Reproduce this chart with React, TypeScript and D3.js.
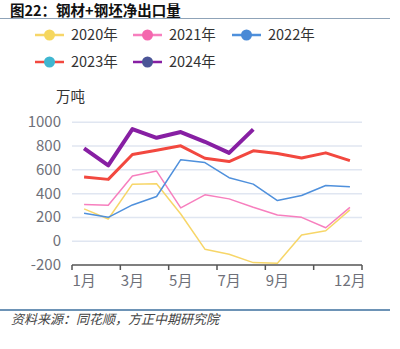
import React from "react";
import * as d3 from "d3";

const months = ["1月","2月","3月","4月","5月","6月","7月","8月","9月","10月","11月","12月"];
const shownLabels = ["1月","3月","5月","7月","9月","12月"];
const yTicks = [-200, 0, 200, 400, 600, 800, 1000];
const seriesNames = ["2020年","2021年","2022年","2023年","2024年"];
const v2020 = [272, 187, 480, 483, 229, -67, -109, -180, -185, 52, 88, 263];
const v2021 = [308, 302, 548, 590, 280, 390, 356, 285, 221, 201, 113, 285];
const v2022 = [235, 201, 305, 376, 686, 661, 534, 480, 342, 384, 469, 458];
const v2023 = [540, 520, 729, 765, 802, 698, 670, 760, 737, 700, 743, 678];
const v2024 = [780, 638, 943, 870, 918, 836, 743, 940];

const lineColors = ["#f7d668", "#f77fbe", "#4f90dc", "#f2483f", "#871fa3"];
const dotColors = ["#f5d75e", "#f467ae", "#4a8ad6", "#3fb6d0", "#4b5597"];
const widths = [1.5, 1.5, 1.5, 3, 4];
const allValues = [v2020, v2021, v2022, v2023, v2024];

export default function App() {
  const W = 400, H = 349;
  const x0 = 72, x1 = 362;
  const y = d3.scaleLinear().domain([-200, 1000]).range([265, 122.3]);
  const band = d3.scaleBand().domain(months).range([x0, x1]);
  const cx = (i: number) => (band(months[i]) as number) + band.bandwidth() / 2;
  const line = d3.line<number>().x((_, i) => cx(i)).y((d) => y(d));
  const font = "'Noto Sans CJK SC', 'Noto Sans', sans-serif";
  const tickXs = d3.range(0, 13, 2).map((k) => x0 + k * band.step());
  const legendPos = [
    [35, 35], [133, 35], [232, 35], [35, 62], [133, 62],
  ];
  return (
    <svg width={W} height={H} style={{ position: "absolute", left: 0, top: 0, background: "#fff" }} fontFamily={font}>
      <text x={10} y={15.5} fontSize={14.5} fontWeight="bold" fill="#111">图22：钢材+钢坯净出口量</text>
      <line x1={0} x2={390} y1={18.5} y2={18.5} stroke="#8fa3b8" strokeWidth={1} />
      {seriesNames.map((n, i) => {
        const [lx, ly] = legendPos[i];
        return (
          <g key={n}>
            <line x1={lx} x2={lx + 29} y1={ly} y2={ly} stroke={lineColors[i]} strokeWidth={2.5} />
            <circle cx={lx + 14.5} cy={ly} r={5.5} fill={dotColors[i]} />
            <text x={lx + 36} y={ly + 5} fontSize={14.5} fill="#333">{n}</text>
          </g>
        );
      })}
      <text x={56} y={102} fontSize={14.5} fill="#333">万吨</text>
      {yTicks.map((t) => (
        <g key={t}>
          {t > -200 && <line x1={x0} x2={x1} y1={y(t)} y2={y(t)} stroke="#e0e6f1" strokeWidth={1.5} />}
          <text x={61} y={y(t) + 5} fontSize={15} fill="#6e7079" textAnchor="end">{t}</text>
        </g>
      ))}
      <line x1={x0} x2={x1} y1={y(-200)} y2={y(-200)} stroke="#555" strokeWidth={1.5} />
      {tickXs.map((tx, k) => (
        <line key={k} x1={tx} x2={tx} y1={y(-200)} y2={y(-200) + 5} stroke="#555" strokeWidth={1.5} />
      ))}
      {shownLabels.map((m) => (
        <text key={m} x={cx(months.indexOf(m))} y={286} fontSize={15} fill="#6e7079" textAnchor="middle">{m}</text>
      ))}
      {allValues.map((vals, i) => (
        <path key={i} d={line(vals) as string} fill="none" stroke={lineColors[i]} strokeWidth={widths[i]} strokeLinejoin="round" />
      ))}
      <line x1={0} x2={390} y1={310} y2={310} stroke="#3d6f9e" strokeWidth={1.5} />
      <text x={11} y={324} fontSize={13} fontStyle="italic" fill="#444">资料来源：同花顺，方正中期研究院</text>
    </svg>
  );
}
